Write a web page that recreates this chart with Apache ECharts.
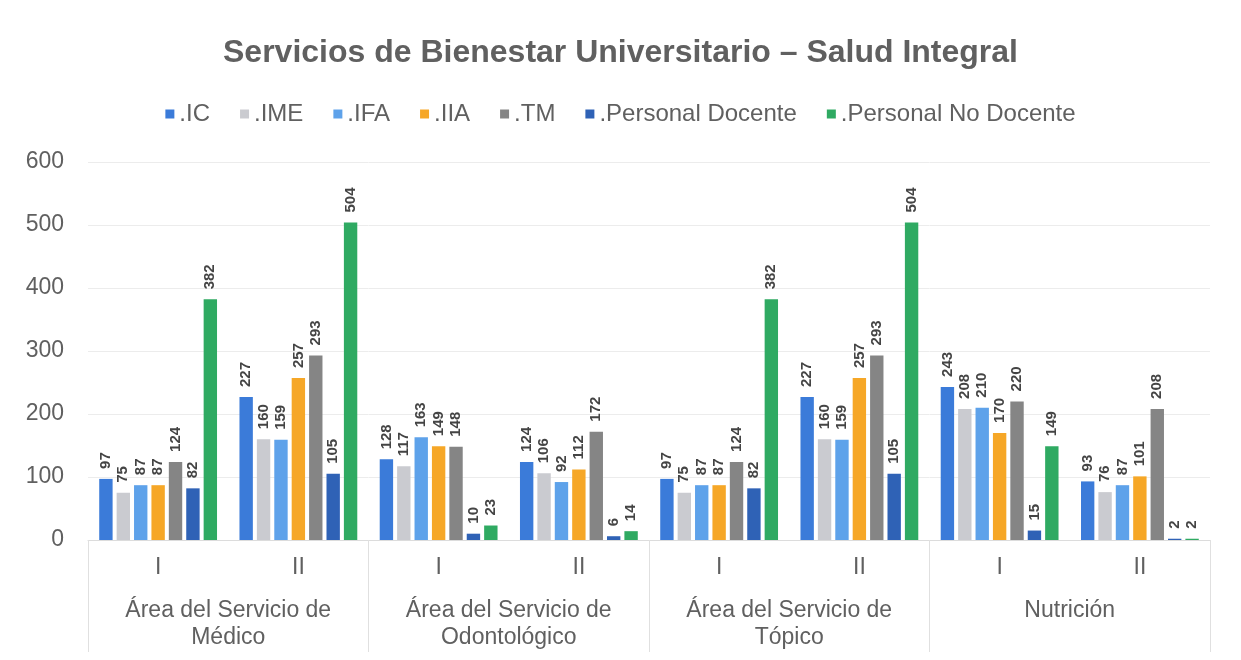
<!DOCTYPE html>
<html>
<head>
<meta charset="utf-8">
<style>
html, body { margin: 0; padding: 0; background: #fff; }
#chart { width: 1241px; height: 660px; }
</style>
<script src="https://cdn.jsdelivr.net/npm/echarts@6/dist/echarts.min.js"></script>
</head>
<body>
<div id="chart"></div>
<script>
'use strict';
var subCats = ['I', 'II', 'I', 'II', 'I', 'II', 'I', 'II'];
var groups = ['Área del Servicio de\nMédico', 'Área del Servicio de\nOdontológico', 'Área del Servicio de\nTópico', 'Nutrición'];
var seriesNames = ['.IC', '.IME', '.IFA', '.IIA', '.TM', '.Personal Docente', '.Personal No Docente'];
var colors = ['#3b7bd9', '#cacbd0', '#5ea2ea', '#f6a727', '#858585', '#2f62b6', '#2faa62'];

var dataIC   = [97, 227, 128, 124, 97, 227, 243, 93];
var dataIME  = [75, 160, 117, 106, 75, 160, 208, 76];
var dataIFA  = [87, 159, 163, 92, 87, 159, 210, 87];
var dataIIA  = [87, 257, 149, 112, 87, 257, 170, 101];
var dataTM   = [124, 293, 148, 172, 124, 293, 220, 208];
var dataPD   = [82, 105, 10, 6, 82, 105, 15, 2];
var dataPND  = [382, 504, 23, 14, 382, 504, 149, 2];
var allData = [dataIC, dataIME, dataIFA, dataIIA, dataTM, dataPD, dataPND];

var myChart = echarts.init(document.getElementById('chart'));

var series = [];
for (var i = 0; i < seriesNames.length; i++) {
	series.push({
		name: seriesNames[i],
		type: 'bar',
		xAxisIndex: 0,
		data: allData[i],
		itemStyle: {color: colors[i]},
		barGap: '30%',
		barCategoryGap: '16%',
		label: {
			show: true,
			position: 'top',
			rotate: 90,
			align: 'left',
			verticalAlign: 'middle',
			distance: 10,
			fontFamily: 'Liberation Sans, Arial',
			fontWeight: 'bold',
			fontSize: 15,
			color: '#444444'
		}
	});
}

var option = {
	textStyle: {fontFamily: 'Liberation Sans, Arial'},
	title: {
		text: 'Servicios de Bienestar Universitario – Salud Integral',
		left: 'center',
		top: 32,
		textStyle: {fontSize: 32, fontWeight: 'bold', color: '#606060'}
	},
	legend: {
		data: seriesNames,
		top: 97,
		left: 'center',
		icon: 'rect',
		itemWidth: 9,
		itemHeight: 9,
		itemGap: 30,
		textStyle: {fontSize: 24, color: '#606060'}
	},
	grid: {left: 88, right: 31, top: 162, bottom: 120},
	xAxis: [
		{
			type: 'category',
			data: subCats,
			axisLine: {lineStyle: {color: '#dcdcdc'}},
			axisTick: {show: false},
			axisLabel: {fontSize: 23, color: '#606060', margin: 16}
		},
		{
			type: 'category',
			data: groups,
			position: 'bottom',
			axisLine: {show: false},
			axisTick: {show: true, length: 112, lineStyle: {color: '#e0e0e0'}},
			axisLabel: {fontSize: 23, color: '#606060', margin: 57, lineHeight: 27}
		}
	],
	yAxis: {
		type: 'value',
		min: 0,
		max: 600,
		interval: 100,
		axisLine: {show: false},
		axisTick: {show: false},
		splitLine: {lineStyle: {color: '#ececec'}},
		axisLabel: {fontSize: 23, color: '#606060', margin: 24}
	},
	series: series
};
myChart.setOption(option);
</script>
</body>
</html>
